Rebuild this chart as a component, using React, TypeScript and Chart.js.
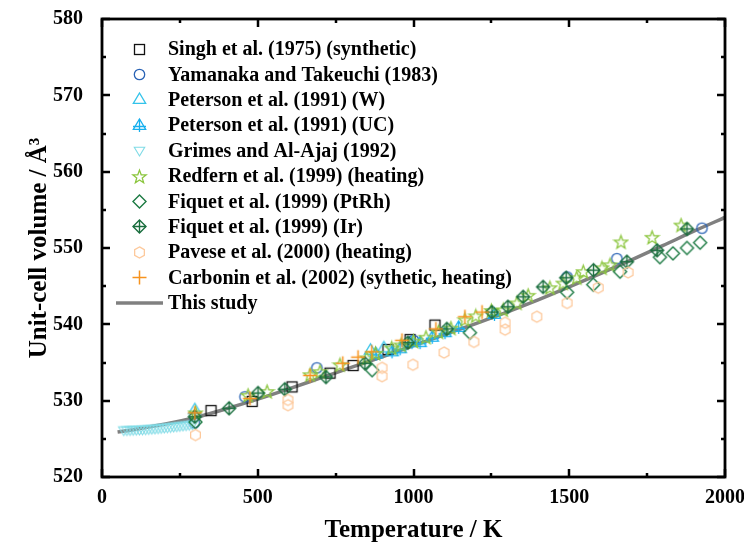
import React, { useEffect, useRef } from 'react';
import { Chart, registerables } from 'chart.js';
Chart.register(...registerables);

const FONT = "'Liberation Serif', 'Times New Roman', serif";

// ---- data ----
const singhT = [350, 482, 610, 732, 806, 918, 989, 1069];
const singhV = [528.7, 529.9, 531.8, 533.6, 534.6, 536.7, 538.0, 539.9];

const yamaT = [296, 459, 690, 1000, 1493, 1653, 1926];
const yamaV = [527.1, 530.5, 534.3, 537.9, 546.2, 548.6, 552.6];

const petWT = [298, 862, 905];
const petWV = [528.8, 536.6, 536.9];

const petUCT = [880, 931, 957, 995, 1021, 1060, 1101, 1145, 1260];
const petUCV = [536.1, 536.4, 536.8, 537.6, 537.6, 538.3, 538.9, 539.6, 541.3];

const grimesT = [70, 80, 90, 100, 110, 120, 130, 140, 150, 160, 170, 180, 190, 200, 210, 220, 230, 240, 250, 260, 270, 280, 290];
const grimesV = [526.15, 526.16, 526.17, 526.19, 526.21, 526.23, 526.25, 526.28, 526.31, 526.34, 526.37, 526.41, 526.45, 526.49, 526.53, 526.57, 526.62, 526.66, 526.71, 526.76, 526.81, 526.86, 526.92];

const redT = [300, 469, 530, 668, 700, 764, 850, 878, 930, 960, 1000, 1040, 1080, 1120, 1165, 1200, 1250, 1288, 1332, 1368, 1438, 1480, 1524, 1545, 1605, 1631, 1666, 1766, 1859];
const redV = [528.4, 530.7, 531.2, 533.4, 533.8, 534.7, 535.6, 536.2, 536.9, 537.3, 537.8, 538.3, 539.0, 539.5, 540.6, 541.1, 541.8, 541.9, 542.8, 543.8, 544.8, 545.4, 546.1, 546.9, 547.4, 547.8, 550.8, 551.4, 553.0];

const fptT = [300, 867, 1181, 1493, 1577, 1663, 1791, 1833, 1878, 1920];
const fptV = [527.2, 534.0, 538.9, 544.2, 545.2, 546.9, 548.8, 549.3, 550.0, 550.7];

const firT = [298, 408, 501, 587, 719, 844, 982, 1107, 1252, 1303, 1352, 1416, 1490, 1578, 1685, 1782, 1878];
const firV = [527.9, 529.0, 531.0, 531.5, 533.1, 534.9, 537.6, 539.4, 541.6, 542.3, 543.6, 544.9, 546.1, 547.1, 548.2, 549.7, 552.5];

const pavT = [300, 597, 597, 899, 899, 998, 1098, 1194, 1294, 1294, 1396, 1493, 1593, 1689];
const pavV = [525.5, 530.1, 529.4, 534.3, 533.2, 534.7, 536.3, 537.7, 540.2, 539.3, 541.0, 542.8, 544.8, 546.8];

const carT = [298, 475, 668, 773, 822, 866, 963, 1072, 1165, 1220];
const carV = [528.4, 530.3, 533.3, 534.9, 535.7, 536.4, 537.9, 539.4, 541.0, 541.6];

const fitT = [50, 100, 200, 300, 400, 500, 600, 700, 800, 900, 1000, 1100, 1200, 1300, 1400, 1500, 1600, 1700, 1800, 1900, 2000];
const fitV = [525.9, 526.2, 526.9, 527.8, 528.95, 530.2, 531.55, 532.95, 534.35, 535.75, 537.2, 538.65, 540.1, 541.6, 543.2, 544.9, 546.65, 548.45, 550.3, 552.2, 554.0];

const xTicks = [0, 500, 1000, 1500, 2000];
const yTicks = [520, 530, 540, 550, 560, 570, 580];

// ---- marker images ----
function mk(size: number, draw: (c: CanvasRenderingContext2D, m: number) => void): HTMLCanvasElement {
  const cv = document.createElement('canvas');
  cv.width = size;
  cv.height = size;
  const c = cv.getContext('2d')!;
  draw(c, size / 2);
  return cv;
}

function markers() {
  const square = mk(15, (c, m) => { c.strokeStyle = '#111'; c.lineWidth = 1.3; c.strokeRect(m - 5, m - 5, 10, 10); });
  const circle = mk(15, (c, m) => { c.strokeStyle = '#2a63b5'; c.lineWidth = 1.3; c.beginPath(); c.arc(m, m, 5.2, 0, Math.PI * 2); c.stroke(); });
  const triPath = (c: CanvasRenderingContext2D, m: number, r: number, dir: number) => {
    c.beginPath();
    c.moveTo(m, m - dir * r);
    c.lineTo(m + r * 0.95, m + dir * r * 0.6);
    c.lineTo(m - r * 0.95, m + dir * r * 0.6);
    c.closePath();
  };
  const triW = mk(17, (c, m) => { c.strokeStyle = '#33c3ea'; c.lineWidth = 1.3; triPath(c, m, 6.5, 1); c.stroke(); });
  const triUC = mk(17, (c, m) => {
    c.strokeStyle = '#17b0ee'; c.lineWidth = 1.3; triPath(c, m, 6.5, 1); c.stroke();
    c.beginPath(); c.moveTo(m, m - 6.5); c.lineTo(m, m + 6.5); c.moveTo(m - 6.5, m + 1); c.lineTo(m + 6.5, m + 1); c.stroke();
  });
  const triDown = mk(15, (c, m) => { c.strokeStyle = '#7fdbe6'; c.lineWidth = 1.1; triPath(c, m, 5.5, -1); c.stroke(); });
  const star = mk(17, (c, m) => {
    c.strokeStyle = '#8cc63f'; c.lineWidth = 1.3; c.beginPath();
    for (let i = 0; i < 10; i++) {
      const r = i % 2 === 0 ? 7 : 2.9;
      const a = -Math.PI / 2 + (i * Math.PI) / 5;
      const px = m + r * Math.cos(a), py = m + 0.6 + r * Math.sin(a);
      if (i === 0) c.moveTo(px, py); else c.lineTo(px, py);
    }
    c.closePath(); c.stroke();
  });
  const diaPath = (c: CanvasRenderingContext2D, m: number, r: number) => {
    c.beginPath(); c.moveTo(m, m - r); c.lineTo(m + r, m); c.lineTo(m, m + r); c.lineTo(m - r, m); c.closePath();
  };
  const dia = mk(17, (c, m) => { c.strokeStyle = '#1c7a43'; c.lineWidth = 1.4; diaPath(c, m, 6.5); c.stroke(); });
  const diaX = mk(17, (c, m) => {
    c.strokeStyle = '#1a6e3e'; c.lineWidth = 1.4; diaPath(c, m, 6.5); c.stroke();
    c.beginPath(); c.moveTo(m, m - 6.5); c.lineTo(m, m + 6.5); c.moveTo(m - 6.5, m); c.lineTo(m + 6.5, m); c.stroke();
  });
  const hex = mk(15, (c, m) => {
    c.strokeStyle = '#fdc99c'; c.lineWidth = 1.3; c.beginPath();
    for (let i = 0; i < 6; i++) {
      const a = -Math.PI / 2 + (i * Math.PI) / 3;
      const px = m + 5.6 * Math.cos(a), py = m + 5.6 * Math.sin(a);
      if (i === 0) c.moveTo(px, py); else c.lineTo(px, py);
    }
    c.closePath(); c.stroke();
  });
  const plus = mk(17, (c, m) => {
    c.strokeStyle = '#f7931e'; c.lineWidth = 1.5; c.beginPath();
    c.moveTo(m, m - 7); c.lineTo(m, m + 7); c.moveTo(m - 7, m); c.lineTo(m + 7, m); c.stroke();
  });
  return { square, circle, triW, triUC, triDown, star, dia, diaX, hex, plus };
}

const pts = (t: number[], v: number[]) => t.map((x, i) => ({ x, y: v[i] }));

const zeroPad = (s: any) => { s.paddingTop = 0; s.paddingBottom = 0; s.paddingLeft = 0; s.paddingRight = 0; };

export default function App() {
  const ref = useRef<HTMLCanvasElement>(null);
  useEffect(() => {
    document.body.style.margin = '0';
    const mm = markers();
    const series = [
      { label: 'Singh et al. (1975) (synthetic)', t: singhT, v: singhV, img: mm.square },
      { label: 'Yamanaka and Takeuchi (1983)', t: yamaT, v: yamaV, img: mm.circle },
      { label: 'Peterson et al. (1991) (W)', t: petWT, v: petWV, img: mm.triW },
      { label: 'Peterson et al. (1991) (UC)', t: petUCT, v: petUCV, img: mm.triUC },
      { label: 'Grimes and Al-Ajaj (1992)', t: grimesT, v: grimesV, img: mm.triDown },
      { label: 'Redfern et al. (1999) (heating)', t: redT, v: redV, img: mm.star },
      { label: 'Fiquet et al. (1999) (PtRh)', t: fptT, v: fptV, img: mm.dia },
      { label: 'Fiquet et al. (1999) (Ir)', t: firT, v: firV, img: mm.diaX },
      { label: 'Pavese et al. (2000) (heating)', t: pavT, v: pavV, img: mm.hex },
      { label: 'Carbonin et al. (2002) (sythetic, heating)', t: carT, v: carV, img: mm.plus },
    ];
    const datasets: any[] = series.map((s, i) => ({
      label: s.label,
      data: pts(s.t, s.v),
      pointStyle: s.img,
      pointRadius: 5,
      showLine: false,
      order: 20 - i,
    }));
    datasets.push({
      label: 'This study',
      data: pts(fitT, fitV),
      showLine: true,
      borderColor: '#808080',
      borderWidth: 3.5,
      pointRadius: 0,
      tension: 0.4,
      cubicInterpolationMode: 'monotone',
      order: 100,
    });

    const framePlugin = {
      id: 'frame',
      afterDatasetsDraw(chart: any) {
        const { ctx, chartArea: a, scales } = chart;
        const xs = scales.x, ys = scales.y;
        ctx.save();
        ctx.strokeStyle = '#000';
        ctx.lineWidth = 2.5;
        ctx.lineCap = 'butt';
        ctx.beginPath();
        for (let v = 0; v <= 2000; v += 250) {
          const px = Math.round(xs.getPixelForValue(v));
          const len = v % 500 === 0 ? 8 : 4;
          ctx.moveTo(px, a.bottom); ctx.lineTo(px, a.bottom - len);
          ctx.moveTo(px, a.top); ctx.lineTo(px, a.top + len);
        }
        for (let v = 520; v <= 580; v += 5) {
          const py = Math.round(ys.getPixelForValue(v));
          const len = v % 10 === 0 ? 8 : 4;
          ctx.moveTo(a.left, py); ctx.lineTo(a.left + len, py);
          ctx.moveTo(a.right, py); ctx.lineTo(a.right - len, py);
        }
        ctx.stroke();
        ctx.lineWidth = 2.8;
        ctx.strokeRect(a.left, a.top, a.right - a.left, a.bottom - a.top);

        // legend
        const x0 = 139, y0 = 49, dy = 25.4, tx = 168;
        ctx.font = `bold 20px ${FONT}`;
        ctx.fillStyle = '#000';
        ctx.textBaseline = 'middle';
        ctx.textAlign = 'left';
        series.forEach((s, i) => {
          const y = y0 + i * dy;
          ctx.drawImage(s.img, Math.round(x0 - s.img.width / 2), Math.round(y - s.img.height / 2));
          ctx.fillText(s.label, tx, y + 1);
        });
        const yl = y0 + 10 * dy;
        ctx.strokeStyle = '#808080';
        ctx.lineWidth = 3.5;
        ctx.beginPath(); ctx.moveTo(116, yl); ctx.lineTo(163, yl); ctx.stroke();
        ctx.fillText('This study', tx, yl + 1);
        ctx.restore();
      },
    };

    const chart = new Chart(ref.current!, {
      type: 'scatter',
      data: { datasets },
      options: {
        animation: false,
        responsive: false,
        layout: { padding: { top: 19, right: 19, left: 0, bottom: 0 } },
        plugins: { legend: { display: false }, tooltip: { enabled: false } },
        scales: {
          x: {
            type: 'linear', min: 0, max: 2000,
            afterBuildTicks: (s: any) => { s.ticks = xTicks.map((value) => ({ value })); },
            afterFit: (s: any) => { s.height = 69; zeroPad(s); },
            grid: { display: false, drawTicks: false },
            border: { display: false },
            ticks: { color: '#000', font: { family: FONT, size: 20, weight: 'bold' }, padding: 9, maxRotation: 0, callback: (v: any) => String(v) },
            title: { display: true, text: 'Temperature / K', color: '#000', font: { family: FONT, size: 25, weight: 'bold' }, padding: { top: 0, bottom: 0 } },
          },
          y: {
            type: 'linear', min: 520, max: 580,
            afterBuildTicks: (s: any) => { s.ticks = yTicks.map((value) => ({ value })); },
            afterFit: (s: any) => { s.width = 102; zeroPad(s); },
            grid: { display: false, drawTicks: false },
            border: { display: false },
            ticks: { color: '#000', font: { family: FONT, size: 20, weight: 'bold' }, padding: 19, callback: (v: any) => String(v) },
            title: { display: true, text: 'Unit-cell volume / Å³', color: '#000', font: { family: FONT, size: 25, weight: 'bold' }, padding: { top: 25, bottom: 0 } },
          },
        },
      },
      plugins: [framePlugin],
    } as any);
    return () => chart.destroy();
  }, []);
  return (
    <div style={{ width: 744, height: 546 }}>
      <canvas ref={ref} width={744} height={546} style={{ display: 'block' }} />
    </div>
  );
}
